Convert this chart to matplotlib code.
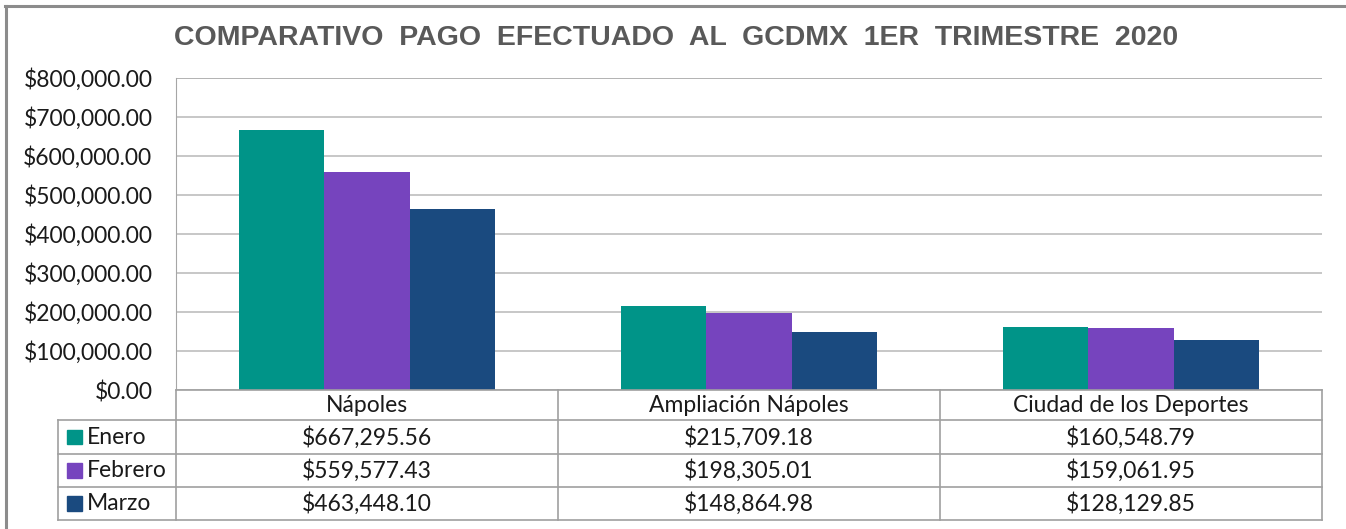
import numpy as np
import matplotlib
matplotlib.use('Agg')
import matplotlib.pyplot as plt
from matplotlib.patches import Rectangle

categories = ['Nápoles', 'Ampliación Nápoles', 'Ciudad de los Deportes']
series = ['Enero', 'Febrero', 'Marzo']
enero = [667295.56, 215709.18, 160548.79]
febrero = [559577.43, 198305.01, 159061.95]
marzo = [463448.10, 148864.98, 128129.85]
values = [enero, febrero, marzo]
colors = ['#009488', '#7644BE', '#1A4A7F']
yticks = np.arange(0, 800001, 100000)

W, H = 1346, 529
fig = plt.figure(figsize=(W / 100, H / 100), dpi=100)
txt_font = ['Lato', 'DejaVu Sans']
fs = 16.5

def fx(px):
    return px / W

def fy(py):
    return 1 - py / H

# outer chart frame (only top and left edges are visible)
fig.add_artist(plt.Line2D([fx(5), 1], [fy(6), fy(6)], transform=fig.transFigure,
                          color='#8c8c8c', lw=2.2))
fig.add_artist(plt.Line2D([fx(6), fx(6)], [fy(6), 0], transform=fig.transFigure,
                          color='#8c8c8c', lw=2.2))

fig.text(fx(676), fy(38), 'COMPARATIVO  PAGO  EFECTUADO  AL  GCDMX  1ER  TRIMESTRE  2020',
         ha='center', va='center', fontsize=20.5, fontweight='bold',
         color='#595959', family=['Liberation Sans', 'DejaVu Sans'])

left, right, top, bottom = 176, 1322, 78, 390
ax = fig.add_axes([fx(left), fy(bottom), fx(right) - fx(left), fy(top) - fy(bottom)])
x = np.arange(len(categories))
bw = 0.224
for i, (name, vals) in enumerate(zip(series, values)):
    ax.bar(x + (i - 1) * bw, vals, bw, color=colors[i], zorder=3, label=name)

ax.set_xlim(-0.5, 2.5)
ax.set_ylim(0, 800000)
ax.set_yticks(yticks)
ax.set_yticklabels(['${:,.2f}'.format(v) for v in yticks], fontsize=fs,
                   family=txt_font, color='#1a1a1a')
ax.set_xticks([])
ax.tick_params(axis='y', length=0, pad=17)
ax.grid(axis='y', color='#bdbdbd', lw=1.2, zorder=0)
for s in ['top', 'right', 'bottom']:
    ax.spines[s].set_visible(False)
ax.spines['left'].set_color('#a6a6a6')
ax.axhline(800000, color='#868686', lw=1.4, zorder=1)

# data table below the plot
tleft, tbottom = 58, 520
unit = (right - left) / 3.0
tax = fig.add_axes([fx(tleft), fy(tbottom), fx(right) - fx(tleft), fy(bottom) - fy(tbottom)])
x0 = -0.5 - (left - tleft) / unit
tax.set_xlim(x0, 2.5)
tax.set_ylim(4, 0)
tax.axis('off')
rows_y = [0, 0.93, 1.97, 2.98, 4]
lc = '#a0a0a0'
for j, yy in enumerate(rows_y):
    tax.plot([-0.5 if j == 0 else x0, 2.5], [yy, yy], color=lc, lw=1.2, clip_on=False)
tax.plot([x0, x0], [rows_y[1], 4], color=lc, lw=1.2, clip_on=False)
for xb in [-0.5, 0.5, 1.5, 2.5]:
    tax.plot([xb, xb], [0, 4], color=lc, lw=1.2, clip_on=False)

for k, cat in enumerate(categories):
    tax.text(x[k], (rows_y[0] + rows_y[1]) / 2, cat, ha='center', va='center',
             fontsize=fs, family=txt_font, color='#1a1a1a')
for i, name in enumerate(series):
    yc = (rows_y[i + 1] + rows_y[i + 2]) / 2
    tax.add_patch(Rectangle((x0 + 0.024, yc - 0.22), 0.039, 0.44, color=colors[i]))
    tax.text(x0 + 0.076, yc, name, ha='left', va='center', fontsize=fs,
             family=txt_font, color='#1a1a1a')
    for k in range(len(categories)):
        tax.text(x[k], yc, '${:,.2f}'.format(values[i][k]), ha='center', va='center',
                 fontsize=fs, family=txt_font, color='#1a1a1a')

fig.savefig('out.png', dpi=100)
